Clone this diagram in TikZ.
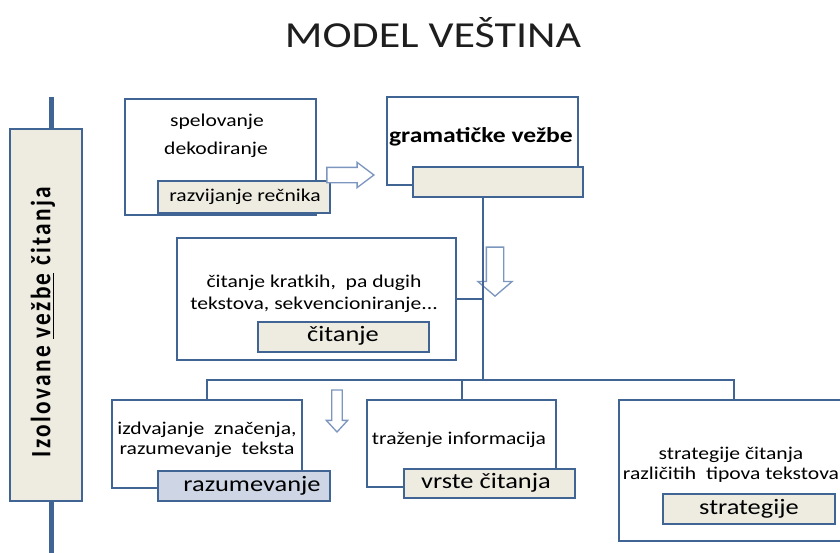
\documentclass[tikz,border=0pt]{standalone}
\usepackage{fontspec}
\setmainfont{Carlito}[FakeStretch=1.2]
\newfontfamily\sidefont{Carlito}[LetterSpace=10]
\usetikzlibrary{fit, positioning, shapes.arrows}
\definecolor{boxline}{RGB}{64,100,148}
\definecolor{beige}{RGB}{238,236,225}
\definecolor{bluegray}{RGB}{206,213,228}
\definecolor{arrowline}{RGB}{125,150,190}
\definecolor{titlegray}{RGB}{30,30,30}

\begin{document}
\begin{tikzpicture}[x=0.75pt, y=-0.75pt, line width=1.5pt,
    box/.style={draw=boxline, fill=white, inner sep=0pt},
    tagbox/.style={draw=boxline, fill=beige, inner sep=0pt},
    note/.style={font=\fontsize{13.5}{15}\selectfont, inner sep=1pt, align=center},
    tag/.style={font=\fontsize{16.5}{18}\selectfont, inner sep=1pt},
    link/.style={draw=boxline, line width=1.5pt},
    hollow/.style={single arrow, draw=arrowline, fill=white, line width=1pt,
        single arrow head indent=0pt}]
    \useasboundingbox (0,0) rectangle (840,553);
    \node[font=\fontsize{27.5}{30}\selectfont, text=titlegray] (title) at (433,33) {MODEL VEŠTINA};

    % side bar
    \coordinate (bartop) at (51,97);
    \coordinate (barbot) at (51,560);
    \draw[boxline, line width=3.75pt] (bartop) -- (barbot);
    \node[tagbox, fit={(10,129) (82,501)}] (side) {};
    \node[rotate=90, inner sep=0pt] (sidetxt) at (43,322)
        {\scalebox{1}[1.2]{\sidefont\fontsize{17.5}{19}\selectfont\bfseries Izolovane \underline{vežbe} čitanja}};

    % upper boxes
    \node[box, fit={(125,99) (316,215)}] (boxA) {};
    \node[note] (spel) at (217,122) {spelovanje};
    \node[note] (dekod) at (216,150) {dekodiranje};
    \node[tagbox, fit={(158,181) (330,213)}] (subA) {};
    \node[note] (recnik) at (245,197) {razvijanje rečnika};

    \node[box, fit={(387,97) (578,185)}] (boxB) {};
    \node[font=\fontsize{16}{18}\selectfont\bfseries, inner sep=1pt] (gram) at (481,137) {gramatičke vežbe};
    \node[tagbox, fit={(413,167) (583,197)}] (subB) {};

    \node[box, fit={(177,238) (456,360)}] (boxC) {};
    \node[note, font=\fontsize{13.5}{16.5}\selectfont] (kratki) at (314,294) {čitanje kratkih,\ \ pa dugih\\tekstova, sekvencioniranje...};
    \node[tagbox, fit={(258,322) (429,352)}] (subC) {};
    \node[tag] (citanje) at (343,336) {čitanje};

    % lower boxes
    \node[box, fit={(112,400) (302,488)}] (boxD) {};
    \node[note] (znacenje) at (207,440) {izdvajanje\ \ značenja,\\razumevanje\ \ teksta};
    \node[draw=boxline, fill=bluegray, inner sep=0pt, fit={(158,471) (330,501)}] (subD) {};
    \node[tag] (razum) at (252,486) {razumevanje};

    \node[box, fit={(367,400) (556,487)}] (boxE) {};
    \node[note] (trazenje) at (459,440) {traženje informacija};
    \node[tagbox, fit={(404,469) (575,498)}] (subE) {};
    \node[tag] (vrste) at (486,483) {vrste čitanja};

    \node[box, fit={(619,400) (848,541)}] (boxF) {};
    \node[note] (tipovi) at (731,465) {strategije čitanja\\različitih\ \ tipova tekstova};
    \node[tagbox, fit={(663,494) (835,524)}] (subF) {};
    \node[tag] (strat) at (749,509) {strategije};

    % hollow arrows
    \node[hollow, inner sep=5.25pt, minimum height=35.25pt, single arrow head extend=3.75pt,
        single arrow tip angle=74, anchor=tip] (arrA) at (375,175) {};
    \node[hollow, shape border rotate=270, inner sep=6pt, minimum height=36.75pt,
        single arrow head extend=6.4pt, single arrow tip angle=99, anchor=tip] (arrB) at (495,297) {};
    \node[hollow, shape border rotate=270, inner sep=3.4pt, minimum height=31.5pt,
        single arrow head extend=4.1pt, single arrow tip angle=85, anchor=tip] (arrC) at (337,433) {};

    % connectors
    \coordinate (hub) at (483,380);
    \draw[link] (subB.south -| hub) -- (hub);
    \draw[link] (boxC.east) -- (boxC.east -| hub);
    \draw[link] (boxD.north) |- (hub) -| (boxF.north);
    \draw[link] (hub -| boxE.north) -- (boxE.north);
\end{tikzpicture}
\end{document}
